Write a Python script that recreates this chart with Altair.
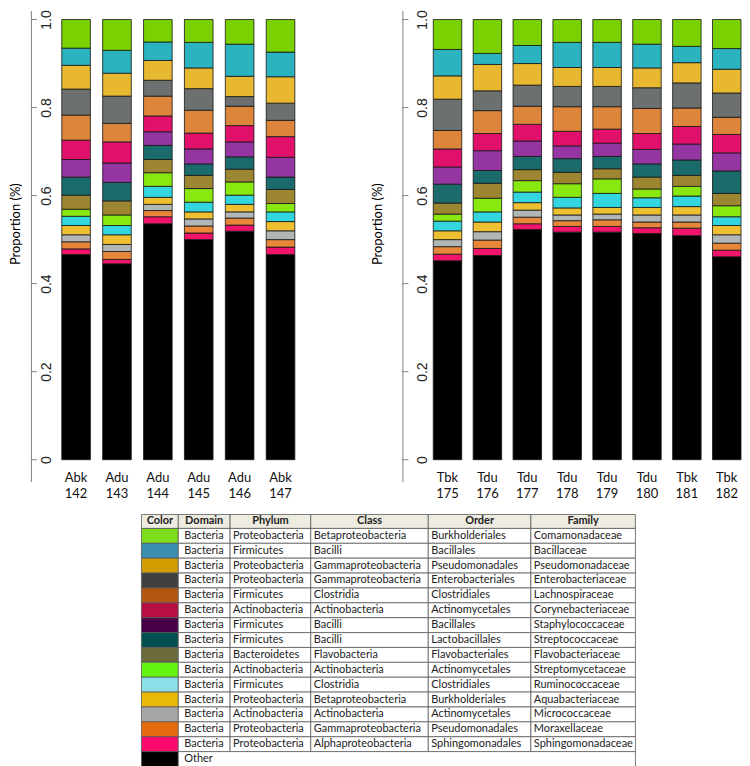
import altair as alt
import pandas as pd

# ---------------- data ----------------
samples_a = ["Abk 142", "Adu 143", "Adu 144", "Adu 145", "Adu 146", "Abk 147"]
samples_t = ["Tbk 175", "Tdu 176", "Tdu 177", "Tdu 178", "Tdu 179", "Tdu 180", "Tbk 181", "Tbk 182"]

# stacking order, bottom -> top
families = ["Other", "Sphingomonadaceae", "Moraxellaceae", "Micrococcaceae", "Aquabacteriaceae",
            "Ruminococcaceae", "Streptomycetaceae", "Flavobacteriaceae", "Streptococcaceae",
            "Staphylococcaceae", "Corynebacteriaceae", "Lachnospiraceae", "Enterobacteriaceae",
            "Pseudomonadaceae", "Bacillaceae", "Comamonadaceae"]

# proportions (%) per sample, in the order of `families`
s142 = [46.6, 1.3, 1.6, 1.6, 2.1, 2.1, 1.6, 3.2, 4.1, 4.0, 4.4, 5.7, 5.9, 5.4, 3.9, 6.5]
s143 = [44.5, 1.0, 1.8, 1.6, 2.2, 2.1, 2.4, 3.2, 4.2, 4.4, 4.8, 4.2, 6.2, 5.2, 5.2, 7.0]
s144 = [53.6, 1.6, 1.4, 1.4, 1.6, 2.5, 3.1, 3.0, 3.2, 3.1, 3.6, 4.5, 3.6, 4.5, 4.2, 5.1]
s145 = [50.0, 1.5, 1.6, 1.6, 1.6, 2.2, 3.1, 3.0, 2.6, 3.4, 3.6, 5.2, 4.9, 4.7, 5.8, 5.2]
s146 = [51.9, 1.4, 1.6, 1.4, 1.7, 2.1, 3.0, 2.9, 2.8, 3.4, 3.7, 4.4, 2.2, 4.6, 7.3, 5.6]
s147 = [46.6, 1.7, 1.7, 2.0, 2.1, 2.2, 1.9, 3.2, 2.8, 4.5, 4.7, 3.7, 3.9, 6.0, 5.6, 7.4]
s175 = [45.2, 1.5, 1.7, 1.6, 2.0, 2.2, 1.6, 2.5, 4.3, 3.9, 4.1, 4.2, 7.1, 5.3, 6.0, 6.8]
s176 = [46.4, 1.6, 1.9, 1.9, 2.2, 2.3, 3.1, 3.4, 2.9, 4.5, 3.9, 5.2, 4.5, 6.0, 2.5, 7.7]
s177 = [52.3, 1.3, 1.5, 1.6, 1.7, 2.4, 2.6, 2.5, 3.0, 3.5, 3.8, 4.1, 4.8, 4.9, 4.1, 5.9]
s178 = [51.7, 1.3, 1.3, 1.3, 1.6, 2.4, 3.1, 2.6, 3.1, 2.9, 3.3, 5.6, 4.6, 4.3, 5.7, 5.2]
s179 = [51.7, 1.3, 1.5, 1.3, 1.5, 3.2, 3.3, 2.3, 2.8, 3.0, 3.2, 5.1, 4.6, 4.3, 5.7, 5.2]
s180 = [51.4, 1.3, 1.3, 1.6, 1.7, 2.2, 2.0, 2.7, 3.0, 3.3, 3.6, 5.7, 4.7, 4.5, 5.4, 5.6]
s181 = [50.9, 1.7, 1.4, 1.6, 1.9, 2.4, 2.2, 2.5, 3.5, 3.6, 4.0, 4.2, 5.7, 4.6, 3.7, 6.1]
s182 = [46.1, 1.5, 1.6, 1.9, 2.1, 2.0, 2.5, 2.8, 5.1, 4.1, 4.2, 3.9, 5.5, 5.4, 4.7, 6.6]

props = {
    "Abk 142": s142, "Adu 143": s143, "Adu 144": s144, "Adu 145": s145, "Adu 146": s146,
    "Abk 147": s147, "Tbk 175": s175, "Tdu 176": s176, "Tdu 177": s177, "Tdu 178": s178,
    "Tdu 179": s179, "Tdu 180": s180, "Tbk 181": s181, "Tbk 182": s182,
}

y_ticks = [0, 0.2, 0.4, 0.6, 0.8, 1.0]

# table contents (top -> bottom)
tbl_domain = ["Bacteria"] * 15
tbl_phylum = ["Proteobacteria", "Firmicutes", "Proteobacteria", "Proteobacteria", "Firmicutes",
              "Actinobacteria", "Firmicutes", "Firmicutes", "Bacteroidetes", "Actinobacteria",
              "Firmicutes", "Proteobacteria", "Actinobacteria", "Proteobacteria", "Proteobacteria"]
tbl_class = ["Betaproteobacteria", "Bacilli", "Gammaproteobacteria", "Gammaproteobacteria", "Clostridia",
             "Actinobacteria", "Bacilli", "Bacilli", "Flavobacteria", "Actinobacteria", "Clostridia",
             "Betaproteobacteria", "Actinobacteria", "Gammaproteobacteria", "Alphaproteobacteria"]
tbl_order = ["Burkholderiales", "Bacillales", "Pseudomonadales", "Enterobacteriales", "Clostridiales",
             "Actinomycetales", "Bacillales", "Lactobacillales", "Flavobacteriales", "Actinomycetales",
             "Clostridiales", "Burkholderiales", "Actinomycetales", "Pseudomonadales", "Sphingomonadales"]
tbl_family = ["Comamonadaceae", "Bacillaceae", "Pseudomonadaceae", "Enterobacteriaceae", "Lachnospiraceae",
              "Corynebacteriaceae", "Staphylococcaceae", "Streptococcaceae", "Flavobacteriaceae",
              "Streptomycetaceae", "Ruminococcaceae", "Aquabacteriaceae", "Micrococcaceae",
              "Moraxellaceae", "Sphingomonadaceae"]
tbl_headers = ["Color", "Domain", "Phylum", "Class", "Order", "Family"]

# ---------------- styles ----------------
bar_colors = ["#000000", "#f2136b", "#e8873a", "#b1b7b6", "#efbf32", "#33d6df", "#8ae811", "#9c8632",
              "#1b6b6c", "#9535a1", "#e1106b", "#dd853b", "#6c7170", "#e8b831", "#2bb4bf", "#7bd000"]
# swatch colours of the table, top -> bottom (Comamonadaceae ... Sphingomonadaceae, Other)
table_colors = ["#7dde1c", "#3a8eae", "#d39d02", "#404040", "#b45511", "#b80f43", "#470048", "#02504f",
                "#6b6a3c", "#63f511", "#8cdfe6", "#e9b906", "#a6a6a6", "#e56c0e", "#ff0a6c", "#000000"]

Y_MIN, Y_MAX = -0.0498, 1.0204
PLOT_H = 473
AXIS_GRAY = "#808080"


def panel(samples, width, p_inner, p_outer, align, title_pad, label_pad):
    rows = []
    for s in samples:
        for i, (f, v) in enumerate(zip(families, props[s])):
            rows.append({"sample": s, "family": f, "idx": i, "p": v / 100.0})
    df = pd.DataFrame(rows)
    yscale = alt.Scale(domain=[Y_MIN, Y_MAX], nice=False, zero=False)
    yaxis = alt.Axis(title="Proportion (%)", values=y_ticks, grid=False, ticks=False,
                     labelExpr="datum.value == 0 ? '0' : format(datum.value, '.1f')",
                     domainColor=AXIS_GRAY, domainWidth=1, labelAngle=270,
                     labelAlign="center", labelBaseline="middle", labelPadding=-label_pad,
                     labelFont="Liberation Sans", labelFontSize=14, labelColor="#222222",
                     titlePadding=title_pad, titleY=214, titleFont="Lato", titleFontSize=13,
                     titleFontWeight="normal", titleColor="#000000")
    bars = alt.Chart(df).mark_bar(stroke="#151515", strokeWidth=0.8).encode(
        x=alt.X("sample:N", sort=samples,
                scale=alt.Scale(paddingInner=p_inner, paddingOuter=p_outer, align=align, round=False),
                axis=alt.Axis(title=None, labelExpr="split(datum.label, ' ')", ticks=False,
                              domain=False, labelAngle=0, labelFont="Lato", labelFontSize=13,
                              labelColor="#111111", labelPadding=-10.3, labelLineHeight=16,
                              labelBaseline="top", labelAlign="center")),
        y=alt.Y("p:Q", stack="zero", scale=yscale, axis=yaxis),
        color=alt.Color("family:N", scale=alt.Scale(domain=families, range=bar_colors), legend=None),
        order=alt.Order("idx:Q", sort="ascending"),
    )
    tk = alt.Chart(pd.DataFrame({"t": y_ticks})).mark_rule(color=AXIS_GRAY, strokeWidth=1).encode(
        y=alt.Y("t:Q", scale=yscale, axis=yaxis),
        x=alt.value(0), x2=alt.value(6),
    )
    return alt.layer(bars, tk).properties(width=width, height=PLOT_H)


p1 = panel(samples_a, 296, 0.3, 0.755, 0.5, 8, 16)
p2 = panel(samples_t, 340, 0.286, 0.387, 1.0, 17.5, 20)

# ---------------- table ----------------
col_edges = [140, 177, 229, 310, 428, 531, 636]
header_top, header_bot = 513, 527
row_h = 14.94
row_edges = [header_top, header_bot] + [header_bot + row_h * (i + 1) for i in range(16)]
TABLE_BOTTOM = row_edges[-1]

cells, texts = [], []
for c, h in enumerate(tbl_headers):
    cells.append({"x": col_edges[c], "x2": col_edges[c + 1], "y": row_edges[0], "y2": row_edges[1], "fill": "#eeece1"})
    texts.append({"tx": (col_edges[c] + col_edges[c + 1]) / 2, "ty": (row_edges[0] + row_edges[1]) / 2,
                  "label": h, "kind": "head"})
cols_data = [tbl_domain, tbl_phylum, tbl_class, tbl_order, tbl_family]
pads = [6, 3, 3, 3, 3]
for r in range(16):
    y0, y1 = row_edges[r + 1], row_edges[r + 2]
    cells.append({"x": col_edges[0], "x2": col_edges[1], "y": y0, "y2": y1, "fill": table_colors[r]})
    if r < 15:
        for c in range(5):
            cells.append({"x": col_edges[c + 1], "x2": col_edges[c + 2], "y": y0, "y2": y1, "fill": "#ffffff"})
            texts.append({"tx": col_edges[c + 1] + pads[c], "ty": (y0 + y1) / 2,
                          "label": cols_data[c][r], "kind": "body"})
    else:
        cells.append({"x": col_edges[1], "x2": col_edges[6], "y": y0, "y2": y1, "fill": "#ffffff"})
        texts.append({"tx": col_edges[1] + 6, "ty": (y0 + y1) / 2, "label": "Other", "kind": "body"})

cells_df = pd.DataFrame(cells)
texts_df = pd.DataFrame(texts)
TX0 = 29
tx_scale = alt.Scale(domain=[TX0, 636], nice=False, zero=False)
ty_scale = alt.Scale(domain=[header_top, TABLE_BOTTOM], nice=False, zero=False, reverse=True)

cell_layer = alt.Chart(cells_df).mark_rect(stroke="#5a5a5a", strokeWidth=0.8).encode(
    x=alt.X("x:Q", scale=tx_scale, axis=None), x2="x2:Q",
    y=alt.Y("y:Q", scale=ty_scale, axis=None), y2="y2:Q",
    fill=alt.Fill("fill:N", scale=None),
)
head_layer = alt.Chart(texts_df[texts_df.kind == "head"]).mark_text(
    font="Lato", fontSize=11, fontWeight="bold", color="#222222", align="center", baseline="middle"
).encode(x=alt.X("tx:Q", scale=tx_scale, axis=None), y=alt.Y("ty:Q", scale=ty_scale, axis=None), text="label:N")
body_layer = alt.Chart(texts_df[texts_df.kind == "body"]).mark_text(
    font="Lato", fontSize=11, color="#222222", align="left", baseline="middle"
).encode(x=alt.X("tx:Q", scale=tx_scale, axis=None), y=alt.Y("ty:Q", scale=ty_scale, axis=None), text="label:N")

table = alt.layer(cell_layer, head_layer, body_layer).properties(
    width=636 - TX0, height=TABLE_BOTTOM - header_top)

top = alt.hconcat(p1, p2, spacing=77, bounds="flush")
chart = alt.vconcat(top, table, spacing=13).properties(
    padding={"left": 2, "top": 0, "right": 0, "bottom": 0}, background="#ffffff"
).configure_view(stroke=None)

chart.save("out.html", embed_options={"renderer": "svg", "actions": False})
